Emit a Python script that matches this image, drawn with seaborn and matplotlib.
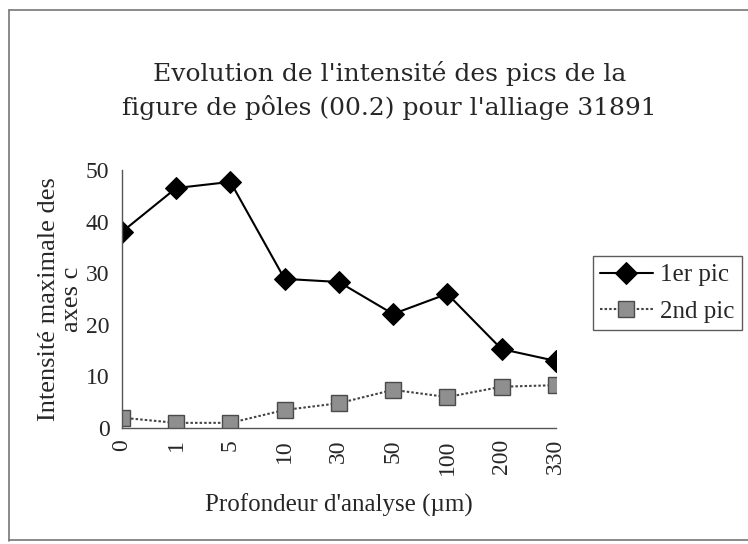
import matplotlib
matplotlib.use("Agg")
import matplotlib.pyplot as plt
from matplotlib.lines import Line2D
import seaborn as sns
import pandas as pd

depths = ["0", "1", "5", "10", "30", "50", "100", "200", "330"]
pic1 = [38, 46.5, 47.7, 28.9, 28.3, 22.1, 26.0, 15.3, 13.0]
pic2 = [2.0, 1.0, 1.0, 3.5, 4.8, 7.4, 6.0, 8.0, 8.3]
y_ticks = [0, 10, 20, 30, 40, 50]

title = "Evolution de l'intensité des pics de la\nfigure de pôles (00.2) pour l'alliage 31891"
xlabel = "Profondeur d'analyse (µm)"
ylabel = "Intensité maximale des\naxes c"

sns.set_style("white")
plt.rcParams["font.family"] = ["Liberation Serif", "DejaVu Serif"]

df = pd.DataFrame({"depth": depths, "1er pic": pic1, "2nd pic": pic2})

fig = plt.figure(figsize=(7.48, 5.44), dpi=100)
ax = fig.add_axes([0.163, 0.2132, 0.580, 0.4743])

sns.lineplot(data=df, x="depth", y="1er pic", ax=ax, sort=False,
             color="black", linewidth=1.5, marker="D", markersize=11,
             markerfacecolor="black", markeredgecolor="black", label="1er pic")
sns.lineplot(data=df, x="depth", y="2nd pic", ax=ax, sort=False,
             color="#444444", linewidth=1.5, linestyle=(0, (1.2, 1.0)),
             marker="s", markersize=11, markerfacecolor="#8f8f8f",
             markeredgecolor="#4a4a4a", markeredgewidth=1.0, label="2nd pic")

ax.set_xlim(0, len(depths) - 1)
ax.set_ylim(0, 50)
ax.set_yticks(y_ticks)
ax.set_xticks(range(len(depths)))
ax.set_xticklabels(depths, rotation=90)
for s in ["top", "right"]:
    ax.spines[s].set_visible(False)
for s in ["left", "bottom"]:
    ax.spines[s].set_color("#555555")
    ax.spines[s].set_linewidth(1.0)
ax.tick_params(axis="both", direction="inout", length=8, width=1.0,
               color="#555555", labelsize=17, pad=4)
ax.tick_params(axis="y", pad=5)

ax.set_xlabel(xlabel, fontsize=18, labelpad=14)
ax.set_ylabel(ylabel, fontsize=19, labelpad=2, linespacing=1.05)

fig.text(0.521, 0.833, title, ha="center", va="center", fontsize=18,
         family=["DejaVu Serif"], linespacing=1.45)

leg = ax.legend(loc="upper left", bbox_to_anchor=(1.085, 0.665), frameon=True,
                fontsize=18, handlelength=2.1, handletextpad=0.3,
                borderpad=0.3, labelspacing=0.55, fancybox=False,
                borderaxespad=0)
leg.get_frame().set_edgecolor("#333333")
leg.get_frame().set_linewidth(1.0)

# outer frame: left, top and bottom edges
for xs, ys in [([0.012, 0.012], [0.005, 0.982]),
               ([0.012, 1.0], [0.982, 0.982]),
               ([0.012, 1.0], [0.007, 0.007])]:
    fig.add_artist(Line2D(xs, ys, transform=fig.transFigure,
                          color="#777777", linewidth=1.2))

fig.savefig("out.png", dpi=100)
